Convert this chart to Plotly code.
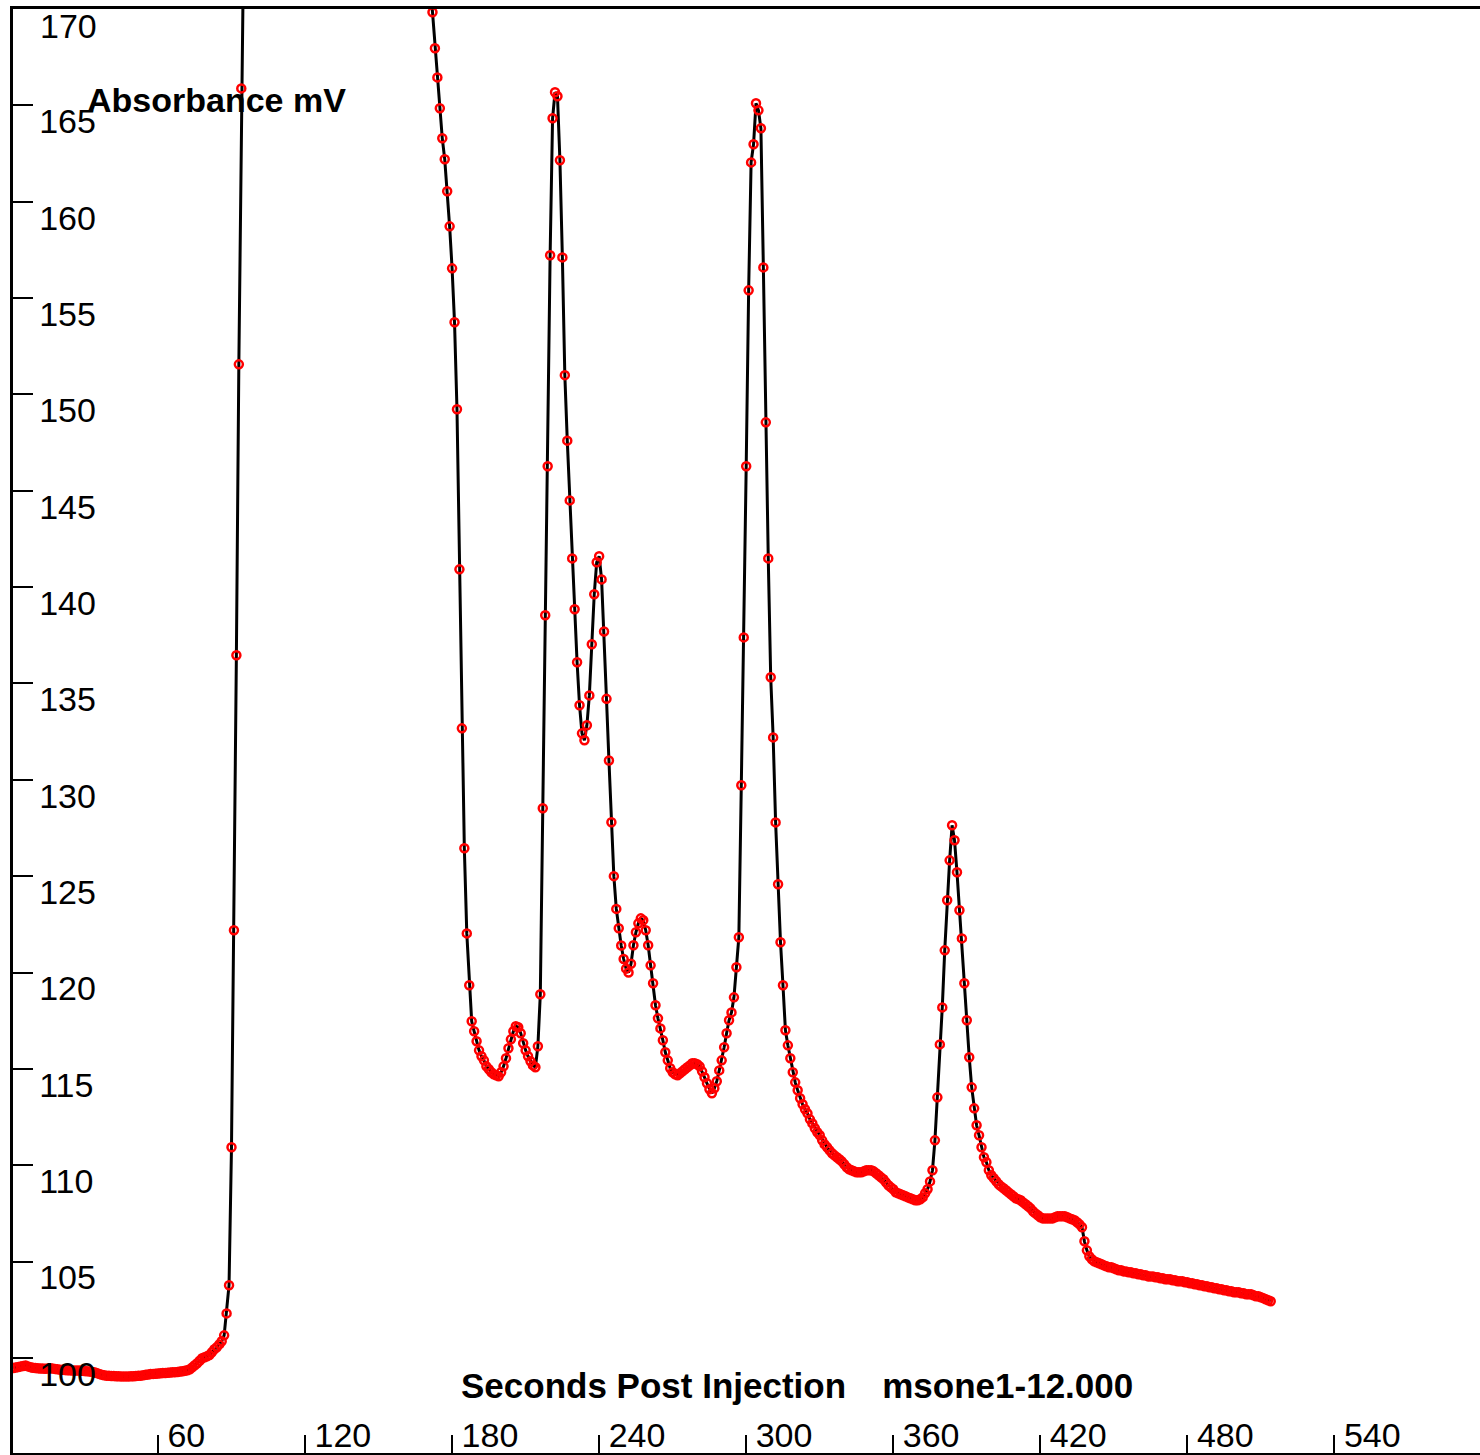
import plotly.graph_objects as go

# ---- data (seconds after injection, absorbance in mV) ----
time_rise = list(range(1, 96))
mv_rise = [
    99.48, 99.50, 99.53, 99.56, 99.58, 99.60, 99.56, 99.52, 99.49, 99.47,
    99.46, 99.45, 99.45, 99.44, 99.45, 99.46, 99.45, 99.43, 99.41, 99.39,
    99.38, 99.37, 99.36, 99.36, 99.35, 99.35, 99.34, 99.34, 99.33, 99.32,
    99.31, 99.30, 99.28, 99.25, 99.21, 99.17, 99.13, 99.10, 99.08, 99.07,
    99.06, 99.06, 99.05, 99.05, 99.04, 99.04, 99.04, 99.04, 99.05, 99.05,
    99.06, 99.07, 99.08, 99.10, 99.12, 99.14, 99.16, 99.17, 99.18, 99.19,
    99.20, 99.21, 99.22, 99.23, 99.24, 99.25, 99.26, 99.27, 99.29, 99.31,
    99.33, 99.36, 99.41, 99.51, 99.62, 99.72, 99.85, 99.98, 100.03, 100.08,
    100.15, 100.29, 100.45, 100.55, 100.70, 100.86, 101.17, 102.31, 103.77, 110.93,
    122.19, 136.46, 151.56, 165.88, 174.00,
]

time_main = list(range(171, 515))
mv_main = [
    171.50, 169.83, 167.96, 166.45, 164.85, 163.29, 162.20, 160.54, 158.72, 156.54,   # 171-180
    153.74, 149.23, 140.92, 132.67, 126.45, 122.03, 119.34, 117.47, 116.95, 116.43,   # 181-190
    115.96, 115.65, 115.44, 115.13, 114.98, 114.82, 114.72, 114.67, 114.61, 114.82,   # 191-200
    115.13, 115.55, 116.07, 116.53, 116.95, 117.21, 117.16, 116.85, 116.33, 115.96,   # 201-210
    115.65, 115.39, 115.18, 115.08, 116.17, 118.87, 128.52, 138.54, 146.27, 157.22,   # 211-220
    164.33, 165.68, 165.47, 162.15, 157.11, 151.00, 147.60, 144.50, 141.49, 138.85,   # 221-230
    136.10, 133.87, 132.41, 132.05, 132.83, 134.38, 137.03, 139.63, 141.29, 141.60,   # 231-240
    140.40, 137.70, 134.20, 131.00, 127.80, 125.00, 123.30, 122.30, 121.40, 120.70,   # 241-250
    120.20, 120.00, 120.45, 121.41, 122.09, 122.55, 122.81, 122.71, 122.19, 121.41,   # 251-260
    120.37, 119.44, 118.30, 117.62, 117.10, 116.48, 115.86, 115.44, 115.03, 114.82,   # 261-270
    114.72, 114.67, 114.77, 114.87, 114.98, 115.08, 115.18, 115.29, 115.29, 115.24,   # 271-280
    115.13, 114.87, 114.56, 114.25, 113.94, 113.73, 113.99, 114.36, 114.92, 115.44,   # 281-290
    116.12, 116.85, 117.52, 117.93, 118.71, 120.27, 121.83, 129.72, 137.39, 146.27,   # 291-300
    155.40, 162.04, 162.98, 165.11, 164.74, 163.81, 156.59, 148.55, 141.49, 135.32,   # 301-310
    132.20, 127.79, 124.58, 121.57, 119.34, 117.00, 116.22, 115.55, 114.82, 114.30,   # 311-320
    113.89, 113.47, 113.16, 112.90, 112.69, 112.38, 112.17, 111.92, 111.71, 111.55,   # 321-330
    111.29, 111.08, 110.93, 110.77, 110.62, 110.51, 110.41, 110.31, 110.20, 110.05,   # 331-340
    109.89, 109.79, 109.74, 109.68, 109.63, 109.63, 109.63, 109.68, 109.74, 109.74,   # 341-350
    109.74, 109.68, 109.58, 109.48, 109.37, 109.27, 109.11, 108.96, 108.85, 108.75,   # 351-360
    108.59, 108.54, 108.49, 108.44, 108.39, 108.33, 108.28, 108.23, 108.18, 108.18,   # 361-370
    108.23, 108.33, 108.54, 108.75, 109.16, 109.74, 111.29, 113.52, 116.27, 118.19,   # 371-380
    121.15, 123.75, 125.82, 127.64, 126.86, 125.20, 123.23, 121.77, 119.44, 117.52,   # 381-390
    115.60, 114.04, 112.95, 112.07, 111.55, 110.93, 110.41, 110.15, 109.74, 109.48,   # 391-400
    109.32, 109.17, 109.01, 108.90, 108.80, 108.70, 108.59, 108.49, 108.39, 108.28,   # 401-410
    108.23, 108.18, 108.07, 107.97, 107.87, 107.76, 107.61, 107.50, 107.40, 107.30,   # 411-420
    107.24, 107.24, 107.24, 107.24, 107.24, 107.30, 107.35, 107.35, 107.35, 107.35,   # 421-430
    107.30, 107.24, 107.19, 107.14, 107.04, 106.93, 106.78, 106.05, 105.58, 105.27,   # 431-440
    105.12, 105.01, 104.96, 104.91, 104.86, 104.80, 104.75, 104.70, 104.70, 104.65,   # 441-450
    104.60, 104.55, 104.55, 104.49, 104.49, 104.44, 104.44, 104.39, 104.39, 104.34,   # 451-460
    104.34, 104.29, 104.29, 104.23, 104.23, 104.23, 104.18, 104.18, 104.13, 104.13,   # 461-470
    104.08, 104.08, 104.08, 104.03, 104.03, 103.98, 103.98, 103.98, 103.92, 103.92,   # 471-480
    103.87, 103.87, 103.82, 103.82, 103.77, 103.77, 103.72, 103.72, 103.66, 103.66,   # 481-490
    103.61, 103.61, 103.56, 103.56, 103.51, 103.51, 103.46, 103.46, 103.41, 103.41,   # 491-500
    103.41, 103.35, 103.35, 103.30, 103.30, 103.30, 103.25, 103.20, 103.20, 103.15,   # 501-510
    103.10, 103.04, 102.99, 102.94,                                                   # 511-514
]

x_tick_values = [60, 120, 180, 240, 300, 360, 420, 480, 540]
y_tick_values = [100, 105, 110, 115, 120, 125, 130, 135, 140, 145, 150, 155, 160, 165, 170]
y_label_text = "Absorbance mV"
x_label_text = "Seconds Post Injection\u00a0\u00a0\u00a0\u2009msone1-12.000"

seconds = time_rise + time_main
absorbance = mv_rise + mv_main

# ---- layout geometry ----
W, H = 1480, 1455
ML, MR, MT, MB = 13, 0, 9, 2
PX_PER_S = 2.451
X0_PX = 10.9
PX_PER_MV = 19.27
Y_TOP = 170.0
x_range = [(ML - X0_PX) / PX_PER_S, (W - MR - X0_PX) / PX_PER_S]
y_range = [Y_TOP - (H - MT - MB) / PX_PER_MV, Y_TOP]
plot_w = W - ML - MR
plot_h = H - MT - MB


def paper_x(px):
    return (px - ML) / plot_w


def paper_y(py):
    return (H - MB - py) / plot_h


fig = go.Figure()
fig.add_trace(go.Scatter(
    x=seconds, y=absorbance, mode="lines",
    line=dict(color="#000000", width=3),
    hoverinfo="skip", showlegend=False,
))
fig.add_trace(go.Scatter(
    x=seconds, y=absorbance, mode="markers",
    marker=dict(symbol="circle-open", size=8, color="#ff0000",
                line=dict(width=2.5, color="#ff0000")),
    showlegend=False,
))

tick_font = dict(family="Liberation Sans, Arial, sans-serif", size=34, color="#000000")
ylab_font = dict(family="Liberation Sans, Arial, sans-serif", size=34, color="#000000")
xlab_font = dict(family="Liberation Sans, Arial, sans-serif", size=35, color="#000000")

# The top tick label sits on the plot edge, where Plotly hides inside labels;
# draw it as an annotation pinned to that tick value instead.
top_tick = y_tick_values[-1]

fig.update_layout(
    width=W, height=H,
    margin=dict(l=ML, r=MR, t=MT, b=MB, pad=0),
    paper_bgcolor="#ffffff", plot_bgcolor="#ffffff",
    showlegend=False,
    xaxis=dict(
        range=x_range, tickvals=x_tick_values, ticktext=[str(v) for v in x_tick_values],
        ticks="inside", ticklen=18, tickwidth=2, tickcolor="#000000",
        showline=True, linewidth=3, linecolor="#000000", mirror=True,
        showgrid=False, zeroline=False,
        ticklabelposition="inside right", tickfont=tick_font,
        ticklabelshift=7, ticklabelstandoff=0,
    ),
    yaxis=dict(
        range=y_range, tickvals=y_tick_values, ticktext=[str(v) for v in y_tick_values],
        ticks="inside", ticklen=20, tickwidth=2, tickcolor="#000000",
        showline=True, linewidth=3, linecolor="#000000", mirror=False,
        showgrid=False, zeroline=False,
        ticklabelposition="inside", tickfont=tick_font,
        ticklabelshift=16, ticklabelstandoff=10,
    ),
    annotations=[
        dict(text=str(top_tick), xref="paper", yref="y",
             x=paper_x(38), y=top_tick, yshift=-16.5,
             xanchor="left", yanchor="middle",
             showarrow=False, font=tick_font),
        dict(text="<b>" + y_label_text + "</b>", xref="paper", yref="paper",
             x=paper_x(85), y=paper_y(99.5), xanchor="left", yanchor="middle",
             showarrow=False, font=ylab_font),
        dict(text="<b>" + x_label_text + "</b>", xref="paper", yref="paper",
             x=paper_x(459), y=paper_y(1385), xanchor="left", yanchor="middle",
             showarrow=False, font=xlab_font),
    ],
)

fig.write_html("out.html")
